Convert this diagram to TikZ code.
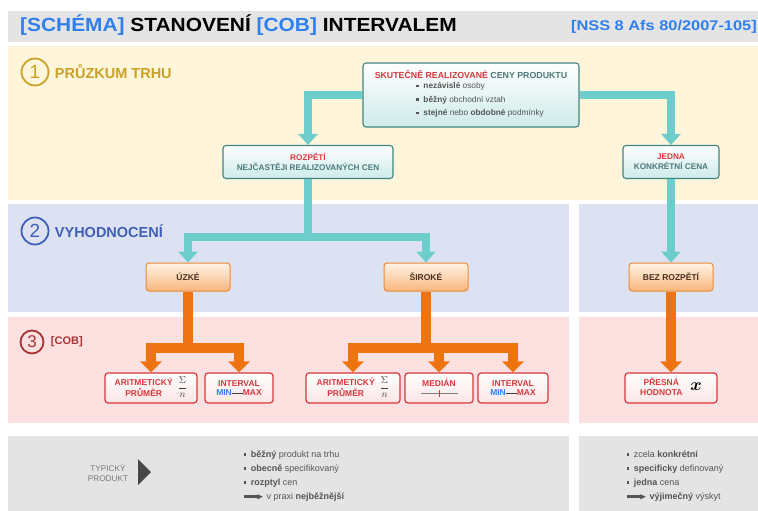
\documentclass[tikz,border=0pt]{standalone}
\usepackage{amsmath,amssymb}
\usepackage{fontspec}
\setmainfont{Liberation Sans}
\usetikzlibrary{arrows.meta,positioning}

\definecolor{hblue}{HTML}{2F80EE}
\definecolor{headgray}{HTML}{E4E4E4}
\definecolor{bgyellow}{HTML}{FFF5DA}
\definecolor{bgblue}{HTML}{DCE2F1}
\definecolor{bgpink}{HTML}{FDE1E1}
\definecolor{gold}{HTML}{C9A227}
\definecolor{secblue}{HTML}{3F60B8}
\definecolor{secred}{HTML}{A83434}
\definecolor{tealline}{HTML}{6DCDCB}
\definecolor{tealdark}{HTML}{3F8581}
\definecolor{tealfill}{HTML}{CDEBEA}
\definecolor{tealtext}{HTML}{4A7A78}
\definecolor{boxred}{HTML}{D6383D}
\definecolor{redfill}{HTML}{FBE4E4}
\definecolor{orangeline}{HTML}{EE7411}
\definecolor{orangeedge}{HTML}{EE8A35}
\definecolor{orangetop}{HTML}{FFF3E6}
\definecolor{orangebot}{HTML}{F9B77D}
\definecolor{darktext}{HTML}{4A3020}
\definecolor{listgray}{HTML}{555555}

\newcommand{\bul}{\rule[0.3ex]{2.8pt}{2.8pt}\hspace{4.5pt}}
\newcommand{\fatarr}{\rule[0.3ex]{15pt}{3.4pt}\kern-2pt{\small$\blacktriangleright$}\hspace{3pt}}
\newcommand{\minmax}{\textcolor{hblue}{MIN}\textcolor{darkgray}{\rule[0.5ex]{11pt}{0.7pt}}MAX}
\newcommand{\sumfrac}{\textcolor{darkgray}{\fontsize{10}{10}\selectfont$\dfrac{\Sigma}{n}$}}

\begin{document}
\begin{tikzpicture}[x=1pt,y=-1pt,
  numcircle/.style={circle,draw,line width=1.8pt,minimum size=27pt,inner sep=0pt,font=\fontsize{19}{19}\selectfont},
  seclabel/.style={font=\fontsize{14.5}{14.5}\selectfont\bfseries},
  tealbox/.style={draw=tealdark,line width=1.1pt,rounded corners=3pt,top color=white,bottom color=tealfill,minimum height=33pt,align=center,font=\fontsize{8.2}{10}\selectfont\bfseries,text=tealtext},
  orangebox/.style={draw=orangeedge,line width=1pt,rounded corners=3pt,top color=orangetop,bottom color=orangebot,minimum width=84pt,minimum height=28pt,font=\fontsize{8.5}{9}\selectfont\bfseries,text=darktext},
  redbox/.style={draw=boxred,line width=1.2pt,rounded corners=3pt,top color=white,bottom color=redfill,minimum height=30pt,align=center,font=\fontsize{8.5}{9.5}\selectfont\bfseries,text=boxred,inner sep=2pt},
  tealarrow/.style={draw=tealline,line width=8pt,-{Triangle[width=19pt,length=11pt]}},
  tealbar/.style={draw=tealline,line width=8pt},
  orangearrow/.style={draw=orangeline,line width=9.5pt,-{Triangle[width=21pt,length=11pt]}},
  orangebar/.style={draw=orangeline,line width=9.5pt},
  bullets/.style={anchor=west,align=left,text=listgray,font=\fontsize{9}{14}\selectfont}]
  \useasboundingbox (0,0) rectangle (758,511);

  % bands
  \fill[headgray] (8,11) rectangle (758,42);
  \fill[bgyellow] (8,46) rectangle (758,200);
  \fill[bgblue] (8,204) rectangle (569,312);
  \fill[bgblue] (579,204) rectangle (758,312);
  \fill[bgpink] (8,317) rectangle (569,423);
  \fill[bgpink] (579,317) rectangle (758,423);
  \fill[headgray] (8,436) rectangle (569,511);
  \fill[headgray] (579,436) rectangle (758,511);

  \node[anchor=base west,font=\fontsize{19}{19}\selectfont\bfseries,inner sep=0pt] (title) at (20,32)
    {\scalebox{1.1}[1]{\textcolor{hblue}{[SCHÉMA]} STANOVENÍ \textcolor{hblue}{[COB]} INTERVALEM}};
  \node[anchor=base east,font=\fontsize{14}{14}\selectfont\bfseries,text=hblue,inner sep=0pt] (ref) at (757,31)
    {\scalebox{1.17}[1]{[NSS 8 Afs 80/2007-105]}};

  % sections
  \node[numcircle,draw=gold,text=gold] (s1) at (35,72) {1};
  \node[seclabel,text=gold,right=2pt of s1] (s1t) {PRŮZKUM TRHU};
  \node[numcircle,draw=secblue,text=secblue] (s2) at (35,231) {2};
  \node[seclabel,text=secblue,right=2pt of s2] (s2t) {VYHODNOCENÍ};
  \node[numcircle,draw=secred,text=secred,minimum size=23pt,font=\fontsize{17}{17}\selectfont] (s3) at (32,342) {3};
  \node[seclabel,text=secred,font=\fontsize{11}{11}\selectfont\bfseries,right=3pt of s3] (s3t) {[COB]};

  % market
  \node[tealbox,minimum width=216pt,minimum height=64pt,font=\fontsize{8.8}{11}\selectfont\bfseries] (real) at (471,95)
    {\textcolor{boxred}{SKUTEČNĚ REALIZOVANÉ} CENY PRODUKTU\\[0pt]
     {\fontsize{8.3}{13.5}\selectfont\mdseries\color{listgray}\begin{tabular}{@{\hspace{18pt}}l@{}}
      \bul\textbf{nezávislé} osoby\\
      \bul\textbf{běžný} obchodní vztah\\
      \bul\textbf{stejné} nebo \textbf{obdobné} podmínky
     \end{tabular}}};
  \node[tealbox,minimum width=170pt] (range) at (308,162)
    {\textcolor{boxred}{ROZPĚTÍ}\\NEJČASTĚJI REALIZOVANÝCH CEN};
  \node[tealbox,minimum width=96pt] (single) at (671,162)
    {\textcolor{boxred}{JEDNA}\\KONKRÉTNÍ CENA};

  % evaluation
  \node[orangebox] (narrow) at (188,277) {ÚZKÉ};
  \node[orangebox] (wide) at (426,277) {ŠIROKÉ};
  \node[orangebox] (norange) at (671,277) {BEZ ROZPĚTÍ};

  % cob
  \node[redbox,minimum width=92pt] (mean1) at (151,388)
    {\begin{tabular}{@{}c@{}}ARITMETICKÝ\\PRŮMĚR\end{tabular}\hspace{5pt}\sumfrac};
  \node[redbox,minimum width=68pt] (int1) at (239,388) {INTERVAL\\\minmax};
  \node[redbox,minimum width=94pt] (mean2) at (353,388)
    {\begin{tabular}{@{}c@{}}ARITMETICKÝ\\PRŮMĚR\end{tabular}\hspace{5pt}\sumfrac};
  \node[redbox,minimum width=68pt] (median) at (439,388)
    {MEDIÁN\\\textcolor{gray}{\rule[0.5ex]{18pt}{0.8pt}}\textcolor{boxred}{\rule[-0.2ex]{1pt}{1.6ex}}\textcolor{gray}{\rule[0.5ex]{18pt}{0.8pt}}};
  \node[redbox,minimum width=70pt] (int2) at (513,388) {INTERVAL\\\minmax};
  \node[redbox,minimum width=92pt] (exact) at (671,388)
    {\begin{tabular}{@{}c@{}}PŘESNÁ\\HODNOTA\end{tabular}\hspace{8pt}\textcolor{black}{\fontsize{17}{17}\selectfont$\boldsymbol{x}$}};

  % teal connectors
  \coordinate (tsplit) at (308,237);
  \draw[tealarrow] (real.west) -| (range.north);
  \draw[tealarrow] (real.east) -| (single.north);
  \draw[tealbar] (range.south) -- (tsplit);
  \draw[tealarrow] (tsplit) -| (narrow.north);
  \draw[tealarrow] (tsplit) -| (wide.north);
  \draw[tealarrow] (single.south) -- (norange.north);

  % orange connectors
  \coordinate (osplit1) at (188,348);
  \coordinate (osplit2) at (426,348);
  \draw[orangebar] (narrow.south) -- (osplit1);
  \draw[orangearrow] (osplit1) -| (mean1.north);
  \draw[orangearrow] (osplit1) -| (int1.north);
  \draw[orangebar] (wide.south) -- (osplit2);
  \draw[orangearrow] (osplit2) -| (mean2.north);
  \draw[orangearrow] (osplit2) -| (median.north);
  \draw[orangearrow] (osplit2) -| (int2.north);
  \draw[orangearrow] (norange.south) -- (exact.north);

  % typical product
  \node[align=center,text=listgray!80,font=\fontsize{8.2}{10}\selectfont] (typ) at (108,473) {TYPICKÝ\\PRODUKT};
  \fill[listgray!85!black] (138,459) -- (151,472) -- (138,485) -- cycle;
  \node[bullets] (typl) at (240,476)
    {\bul\textbf{běžný} produkt na trhu\\
     \bul\textbf{obecně} specifikovaný\\
     \bul\textbf{rozptyl} cen\\
     \fatarr v praxi \textbf{nejběžnější}};
  \node[bullets] (typr) at (623,476)
    {\bul zcela \textbf{konkrétní}\\
     \bul\textbf{specificky} definovaný\\
     \bul\textbf{jedna} cena\\
     \fatarr\textbf{výjimečný} výskyt};
\end{tikzpicture}
\end{document}
